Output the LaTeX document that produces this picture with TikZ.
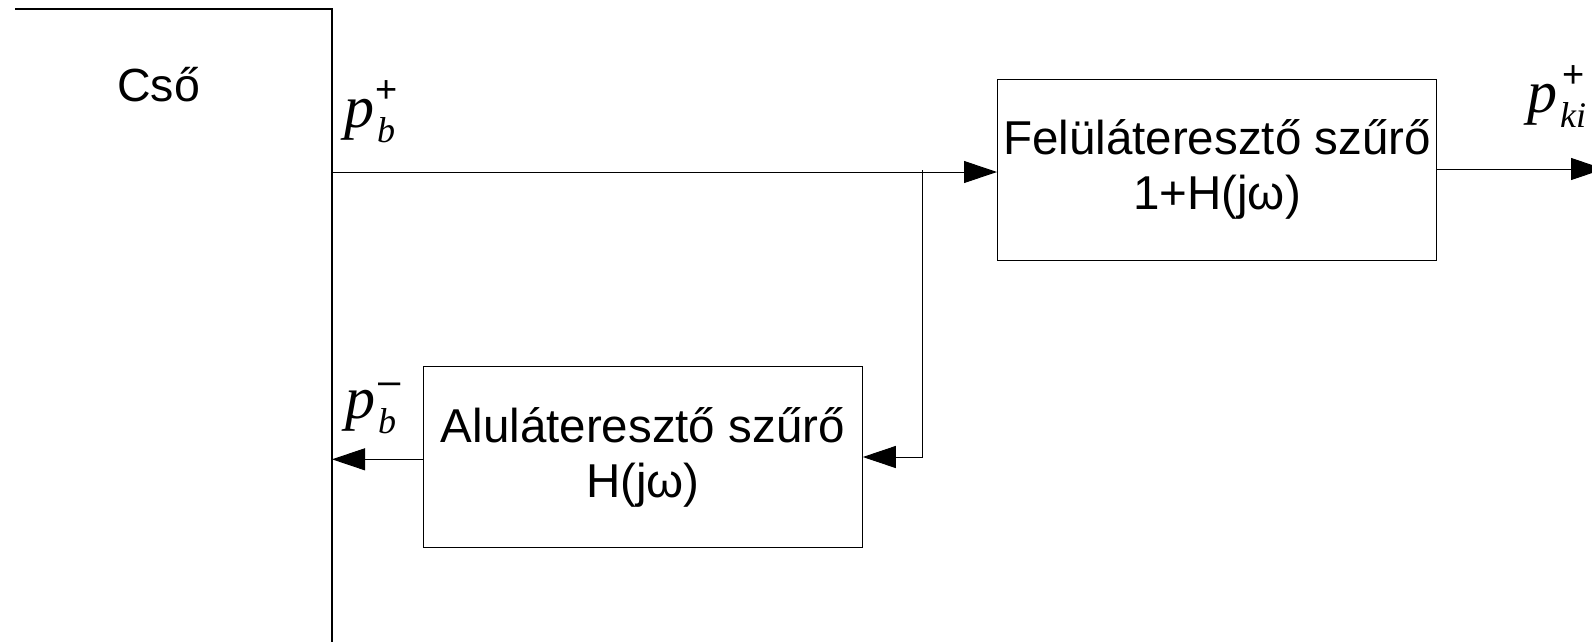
\documentclass[tikz,border=0pt]{standalone}
\usepackage{fontspec}
\setmainfont{Liberation Sans}
\newfontfamily\pfont{Liberation Serif}
\usetikzlibrary{arrows.meta}
\newsavebox{\subbox}
% \plab[alignment of sup over sub]{sup}{sub}
\newcommand{\plab}[3][c]{{\pfont\itshape\fontsize{60}{60}\selectfont p}\kern3pt%
  \sbox{\subbox}{\pfont\itshape\fontsize{36}{36}\selectfont #3}%
  \rlap{\makebox[\wd\subbox][#1]{#2}}\raisebox{-15pt}{\usebox{\subbox}}}
\newcommand{\supplus}{\raisebox{24.5pt}{\fontsize{38}{38}\selectfont +}}
\newcommand{\supminus}{\raisebox{24pt}{\fontsize{40}{40}\selectfont –}}
\tikzset{
  ln/.style={line width=1pt, black},
  arr/.style={ln, -{Triangle[length=33pt, width=22pt]}},
  box/.style={draw, ln, minimum width=439pt, minimum height=181pt, inner sep=0pt,
    align=center, font=\fontsize{47.5}{55}\selectfont},
  lbl/.style={inner sep=0pt, anchor=base west},
}
\begin{document}
\begin{tikzpicture}[x=1pt,y=-1pt]
\useasboundingbox (0,0) rectangle (1592,641);
% pipe wall
\coordinate (wtl) at (15,9);
\coordinate (wtr) at (332,9);
\coordinate (wbot) at (332,650);
\coordinate (wall) at (332,0);
\draw[ln, line width=1.3pt] (wtl) -- (wtr) -- (wbot);
\node[inner sep=0pt, anchor=base, font=\fontsize{46.5}{50}\selectfont] (cso) at (158.7,101.5) {Cső};
% boxes
\node[box] (hp) at (1217,169.5) {Felüláteresztő szűrő\\1+H(jω)};
\node[box] (lp) at (642.8,457) {Aluláteresztő szűrő\\H(jω)};
% connectors
\coordinate (pin) at (332,172);
\coordinate (jt) at (922,170);
\draw[arr] (pin) -- (pin -| hp.west);
\draw[arr] (jt) |- (lp.east);
\coordinate (lpo) at ([yshift=-2.3pt]lp.west);
\draw[arr] (lpo) -- (lpo -| wall);
\coordinate (outend) at (1604,169);
\draw[arr] ([yshift=0.5pt]hp.east) -- (outend);
% labels
\node[lbl] (pbplus) at (344,127) {\plab{\supplus}{b}};
\node[lbl] (pbminus) at (345,418) {\plab[l]{\supminus}{b}};
\node[lbl] (pkiplus) at (1527,112) {\plab{\supplus}{ki}};
\end{tikzpicture}
\end{document}
